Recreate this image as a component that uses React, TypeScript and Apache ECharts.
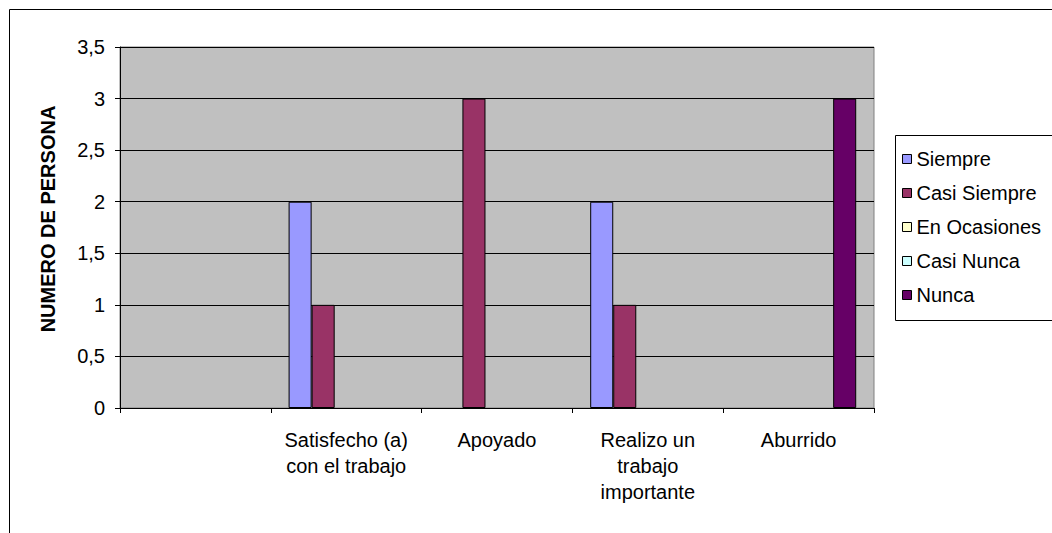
import React, { useEffect, useRef } from "react";
import * as echarts from "echarts";

const categories = ["", "Satisfecho (a)\ncon el trabajo", "Apoyado", "Realizo un\ntrabajo\nimportante", "Aburrido"];
const seriesNames = ["Siempre", "Casi Siempre", "En Ocasiones", "Casi Nunca", "Nunca"];
const siempre = [null, 2, null, 2, null];
const casiSiempre = [null, 1, 3, 1, null];
const enOcasiones = [null, null, null, null, null];
const casiNunca = [null, null, null, null, null];
const nunca = [null, null, null, null, 3];
const colors = ["#9999FF", "#993366", "#FFFFCC", "#CCFFFF", "#660066"];
const yTicks = { min: 0, max: 3.5, interval: 0.5 };
const yTitle = "NUMERO DE PERSONA";

const FONT = "'Liberation Sans', Arial, sans-serif";

export default function App() {
  const ref = useRef<HTMLDivElement>(null);
  useEffect(() => {
    if (!ref.current) return;
    const chart = echarts.init(ref.current, null, { renderer: "svg" });
    const values = [siempre, casiSiempre, enOcasiones, casiNunca, nunca];
    chart.setOption({
      animation: false,
      backgroundColor: "#ffffff",
      textStyle: { fontFamily: FONT },
      grid: {
        left: 120,
        top: 47,
        right: 178,
        bottom: 125,
        show: true,
        backgroundColor: "#C0C0C0",
        borderColor: "#808080",
        borderWidth: 1,
      },
      legend: {
        orient: "vertical",
        left: 897,
        top: 144,
        itemWidth: 9,
        itemHeight: 9,
        itemGap: 14,
        icon: "rect",
        textStyle: { fontSize: 20, color: "#000", fontFamily: FONT },
        data: seriesNames.map((n, i) => ({
          name: n,
          itemStyle: { color: colors[i], borderColor: "#000", borderWidth: 1 },
        })),
      },
      xAxis: {
        type: "category",
        data: categories,
        axisLine: { lineStyle: { color: "#000", width: 1 } },
        axisTick: { show: true, alignWithLabel: false, length: 5, lineStyle: { color: "#000" } },
        axisLabel: {
          interval: 0,
          fontSize: 20,
          lineHeight: 26,
          color: "#000",
          margin: 19,
          fontFamily: FONT,
        },
        splitLine: { show: false },
      },
      yAxis: {
        type: "value",
        min: yTicks.min,
        max: yTicks.max,
        interval: yTicks.interval,
        axisLine: { show: true, lineStyle: { color: "#000", width: 1 } },
        axisTick: { show: true, length: 5, lineStyle: { color: "#000" } },
        axisLabel: {
          fontSize: 20,
          color: "#000",
          margin: 15,
          fontFamily: FONT,
          formatter: (v: number) => String(v).replace(".", ","),
        },
        splitLine: { show: true, lineStyle: { color: "#000", width: 1 } },
      },
      series: seriesNames.map((n, i) => ({
        name: n,
        type: "bar",
        data: values[i],
        barGap: "0%",
        barCategoryGap: "23.6%",
        itemStyle: { color: colors[i], borderColor: "#000", borderWidth: 1 },
      })),
      graphic: [
        {
          type: "rect",
          shape: { x: 9.5, y: 9.5, width: 1100, height: 600 },
          style: { fill: "none", stroke: "#000", lineWidth: 1 },
          silent: true,
        },
        {
          type: "rect",
          shape: { x: 895.5, y: 135.5, width: 200, height: 185 },
          style: { fill: "none", stroke: "#000", lineWidth: 1 },
          silent: true,
        },
        {
          type: "text",
          x: 48,
          y: 219,
          rotation: Math.PI / 2,
          style: {
            text: yTitle,
            fontSize: 20,
            fontWeight: "bold",
            fill: "#000",
            fontFamily: FONT,
            align: "center",
            verticalAlign: "middle",
          },
          silent: true,
        },
      ],
    });
    return () => chart.dispose();
  }, []);
  return (
    <div
      ref={ref}
      style={{ position: "fixed", left: 0, top: 0, width: 1052, height: 533 }}
    />
  );
}
